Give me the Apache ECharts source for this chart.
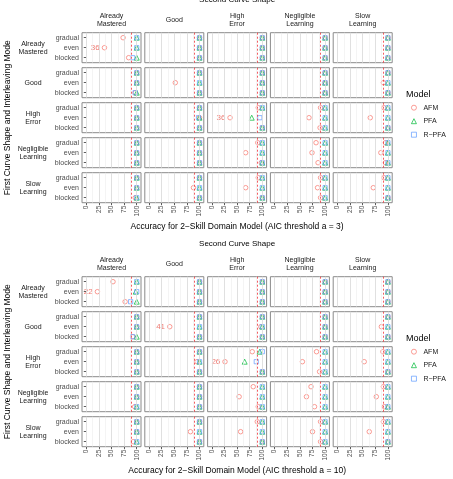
<!DOCTYPE html>
<html>
<head>
<meta charset="utf-8">
<script src="https://cdn.jsdelivr.net/npm/echarts@6/dist/echarts.min.js"></script>
<style>
html, body { margin: 0; padding: 0; background: #fff; }
#chart { width: 453px; height: 479px; }
</style>
</head>
<body>
<div id="chart"></div>
<script>
// facets: rows = first curve shape, cols = second curve shape
var shapes = ['Already\nMastered', 'Good', 'High\nError', 'Negligible\nLearning', 'Slow\nLearning'];
var modes = ['gradual', 'even', 'blocked'];
var models = ['AFM', 'PFA', 'R−PFA'];
var thresholds = [3, 10];
var ticks = [0, 25, 50, 75, 100];
var minorTicks = [12.5, 37.5, 62.5, 87.5];
var baseline = 90;

// values per [row][col] = [gradual, even, blocked]
var afm3 = [
    [[73, 36, 84], [100, 100, 100], [100, 100, 100], [100, 100, 100], [100, 100, 100]],
    [[100, 100, 97], [100, 52, 100], [100, 100, 100], [100, 100, 100], [100, 91, 100]],
    [[100, 100, 100], [100, 100, 100], [92, 36, 100], [91, 68, 90], [92, 65, 100]],
    [[100, 100, 100], [100, 100, 100], [91, 67, 98], [82, 74, 86], [95, 86, 95]],
    [[100, 100, 97], [100, 88, 100], [92, 67, 100], [91, 85, 91], [92, 71, 100]]
];
var pfa3 = [
    [[100, 100, 100], [100, 100, 100], [100, 100, 100], [100, 100, 100], [100, 100, 100]],
    [[100, 100, 100], [100, 100, 100], [100, 100, 100], [100, 100, 100], [100, 100, 100]],
    [[100, 100, 100], [100, 100, 100], [100, 79, 100], [100, 100, 100], [100, 100, 100]],
    [[100, 100, 100], [100, 100, 100], [100, 100, 100], [100, 100, 100], [100, 100, 100]],
    [[100, 100, 100], [100, 100, 100], [100, 100, 100], [100, 100, 100], [100, 100, 100]]
];
var rpfa3 = [
    [[100, 100, 92], [100, 100, 100], [100, 100, 100], [100, 100, 100], [100, 100, 100]],
    [[100, 100, 97], [100, 100, 100], [100, 100, 100], [100, 100, 100], [100, 100, 100]],
    [[100, 100, 100], [100, 98, 100], [100, 95, 100], [100, 100, 100], [100, 100, 100]],
    [[100, 100, 100], [100, 100, 100], [100, 100, 100], [100, 100, 100], [100, 100, 100]],
    [[100, 100, 100], [100, 100, 100], [100, 100, 100], [100, 100, 100], [100, 100, 100]]
];
var afm10 = [
    [[53, 22, 77], [100, 100, 100], [100, 100, 100], [100, 100, 100], [100, 100, 100]],
    [[100, 100, 92], [100, 41, 100], [100, 97, 100], [100, 100, 100], [100, 87, 100]],
    [[100, 100, 100], [100, 95, 100], [80, 26, 100], [83, 55, 89], [90, 53, 100]],
    [[100, 100, 96], [100, 100, 100], [82, 54, 92], [72, 63, 79], [91, 77, 93]],
    [[100, 100, 93], [100, 82, 100], [90, 57, 100], [91, 75, 91], [91, 63, 100]]
];
var pfa10 = [
    [[100, 98, 100], [100, 100, 100], [100, 100, 100], [100, 100, 100], [100, 100, 100]],
    [[100, 100, 100], [100, 100, 100], [100, 100, 100], [100, 100, 100], [100, 100, 100]],
    [[100, 100, 100], [100, 100, 100], [95, 65, 100], [100, 100, 100], [100, 100, 100]],
    [[100, 100, 100], [100, 100, 100], [100, 100, 100], [100, 100, 100], [100, 100, 100]],
    [[100, 100, 100], [100, 100, 100], [100, 100, 100], [100, 100, 100], [100, 100, 100]]
];
var rpfa10 = [
    [[100, 100, 88], [100, 100, 100], [100, 100, 100], [100, 100, 100], [100, 100, 100]],
    [[100, 100, 92], [100, 100, 100], [100, 100, 100], [100, 100, 100], [100, 100, 100]],
    [[100, 100, 100], [100, 100, 100], [100, 88, 100], [100, 100, 100], [100, 100, 100]],
    [[100, 100, 100], [100, 100, 100], [100, 100, 100], [100, 100, 100], [100, 100, 100]],
    [[100, 100, 100], [100, 100, 100], [100, 100, 100], [100, 100, 100], [100, 100, 100]]
];

var blocks = [[afm3, pfa3, rpfa3], [afm10, pfa10, rpfa10]];
var colors = ['#F8766D', '#00BA38', '#619CFF'];
var symbols = ['circle', 'triangle', 'rect'];
var sizes = [4.5, 5, 4.2];

var FONT = '"Liberation Sans", Arial, sans-serif';
var colLeft = 82, colStep = 62.8, panelW = 59;
var rowStep = 35, panelH = 30;
var panelTops = [32.7, 276.7];

var grids = [], xAxes = [], yAxes = [], series = [], graphics = [], legends = [];

function txt(text, x, y, size, color, rot) {
    return {
        type: 'text', x: x, y: y, rotation: rot || 0, silent: true,
        style: {
            text: text, align: 'center', verticalAlign: 'middle',
            fontSize: size, fontFamily: FONT, fill: color, lineHeight: size + 1
        }
    };
}

blocks.forEach(function (vals, p) {
    var top0 = panelTops[p];
    var midX = colLeft + (4 * colStep + panelW) / 2;
    graphics.push(txt('Second Curve Shape', midX, top0 - 32.5, 8, '#000'));
    graphics.push(txt('Accuracy for 2−Skill Domain Model (AIC threshold a = ' + thresholds[p] + ')',
        midX, top0 + 193.5, 8.5, '#000'));
    graphics.push(txt('First Curve Shape and Interleaving Mode', 8, top0 + (4 * rowStep + panelH) / 2,
        8.5, '#000', Math.PI / 2));
    graphics.push({
        type: 'text', x: 406, y: top0 + 61.5, silent: true,
        style: { text: 'Model', align: 'left', verticalAlign: 'middle', fontSize: 9, fontFamily: FONT, fill: '#000' }
    });
    legends.push({
        orient: 'vertical', left: 411, top: top0 + 71.5, padding: 0,
        itemWidth: 5, itemHeight: 5, itemGap: 6.5, selectedMode: false,
        itemStyle: { borderWidth: 0.9 },
        textStyle: { fontSize: 7, fontFamily: FONT, color: '#1a1a1a', padding: [0, 0, 0, 2] },
        data: models
    });

    for (var c = 0; c < 5; c++) {
        graphics.push(txt(shapes[c], colLeft + c * colStep + panelW / 2, top0 - 12.4, 7, '#1a1a1a'));
    }
    for (var r = 0; r < 5; r++) {
        graphics.push(txt(shapes[r], 33, top0 + r * rowStep + panelH / 2, 7, '#1a1a1a'));
        for (var c = 0; c < 5; c++) {
            var idx = grids.length;
            grids.push({
                left: colLeft + c * colStep, top: top0 + r * rowStep,
                width: panelW, height: panelH,
                show: true, borderColor: '#8a8a8a', borderWidth: 1, backgroundColor: '#fff'
            });
            xAxes.push({
                gridIndex: idx, type: 'value', min: -8.5, max: 108.5,
                splitLine: { show: false }, axisLine: { show: false },
                axisTick: { show: r === 4, customValues: ticks, length: 2.5, lineStyle: { color: '#333', width: 0.8 } },
                axisLabel: {
                    show: r === 4, customValues: ticks, rotate: 90, margin: 3,
                    fontSize: 6.5, fontFamily: FONT, color: '#4d4d4d'
                }
            });
            yAxes.push({
                gridIndex: idx, type: 'category', data: modes, inverse: true,
                splitLine: { show: false }, axisLine: { show: false },
                axisTick: { show: c === 0, alignWithLabel: true, length: 2.5, lineStyle: { color: '#333', width: 0.8 } },
                axisLabel: { show: c === 0, margin: 3, fontSize: 7, fontFamily: FONT, color: '#4d4d4d' }
            });
            // panel grid lines and baseline
            var lines = [];
            minorTicks.forEach(function (v) {
                lines.push({ xAxis: v, lineStyle: { color: '#ececec', width: 0.6, type: 'solid' } });
            });
            ticks.forEach(function (v) {
                lines.push({ xAxis: v, lineStyle: { color: '#dcdcdc', width: 0.9, type: 'solid' } });
            });
            lines.push({ xAxis: baseline, lineStyle: { color: '#f0343a', width: 0.8, type: [2, 2] } });
            series.push({
                type: 'scatter', xAxisIndex: idx, yAxisIndex: idx, data: [], silent: true, z: 1,
                markLine: { silent: true, symbol: ['none', 'none'], label: { show: false }, animation: false, data: lines }
            });
            for (var m = 0; m < 3; m++) {
                var v3 = vals[m][r][c];
                series.push({
                    type: 'scatter', name: models[m], xAxisIndex: idx, yAxisIndex: idx,
                    symbol: symbols[m], symbolSize: sizes[m], z: 2 + m, silent: true,
                    itemStyle: { color: 'rgba(255,255,255,0)', borderColor: colors[m], borderWidth: 0.9 },
                    data: modes.map(function (md, k) {
                        var item = { value: [v3[k], md] };
                        if (m === 0 && v3[k] < 50) {
                            item.label = {
                                show: true, position: 'left', distance: 2, formatter: String(v3[k]),
                                color: '#e8574d', fontSize: 8, fontFamily: FONT
                            };
                        }
                        return item;
                    })
                });
            }
        }
    }
});

var option = {
    animation: false,
    backgroundColor: '#fff',
    grid: grids,
    xAxis: xAxes,
    yAxis: yAxes,
    legend: legends,
    graphic: graphics,
    series: series
};

var myChart = echarts.init(document.getElementById('chart'));
myChart.setOption(option);
</script>
</body>
</html>
